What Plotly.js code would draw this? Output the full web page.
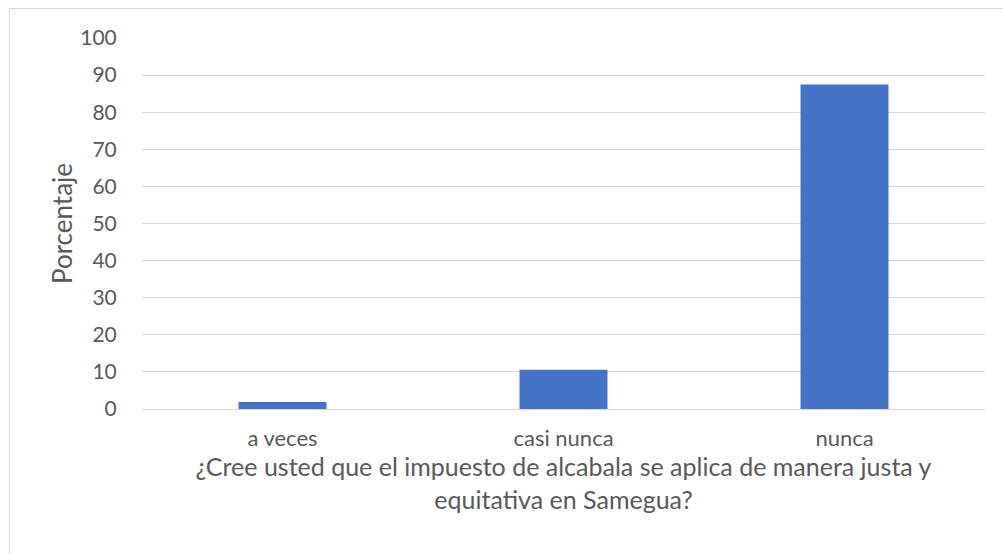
<!DOCTYPE html>
<html>
<head>
<meta charset="utf-8">
<script src="https://cdn.plot.ly/plotly-3.0.1.min.js"></script>
<style>
html,body{margin:0;padding:0;background:#fff;overflow:hidden;}
#chart{width:1003px;height:554px;}
#frame{position:absolute;left:9px;top:8px;width:1010px;height:570px;border:1px solid #d9d9d9;pointer-events:none;}
</style>
</head>
<body>
<div id="chart"></div>
<div id="frame"></div>
<script>
const categories = ["a veces", "casi nunca", "nunca"];
const values = [1.9, 10.6, 87.5];
const yTickValues = [0,10,20,30,40,50,60,70,80,90,100];
const xTitle = "¿Cree usted que el impuesto de alcabala se aplica de manera justa y<br>equitativa en Samegua?";
const yTitle = "Porcentaje";

const font = "Lato, 'Open Sans', sans-serif";
const textColor = "#595959";

Plotly.newPlot("chart", [{
  type: "bar",
  x: categories,
  y: values,
  marker: {color: "#4472c4"},
  hoverinfo: "x+y"
}], {
  width: 1003,
  height: 554,
  margin: {l: 142, r: 18, t: 38, b: 145},
  paper_bgcolor: "#ffffff",
  plot_bgcolor: "#ffffff",
  bargap: 0.687,
  showlegend: false,
  font: {family: font, color: textColor, size: 22},
  xaxis: {
    type: "category",
    showgrid: false,
    showline: false,
    ticks: "outside",
    ticklen: 10,
    tickcolor: "rgba(0,0,0,0)",
    tickfont: {family: font, size: 22, color: textColor},
    title: {text: xTitle, font: {family: font, size: 25, color: textColor}, standoff: 2},
    automargin: false
  },
  yaxis: {
    range: [0, 100],
    tickvals: yTickValues,
    ticktext: yTickValues.map(String),
    showgrid: true,
    gridcolor: "#d9d9d9",
    gridwidth: 1,
    zeroline: true,
    zerolinecolor: "#d9d9d9",
    zerolinewidth: 1,
    showline: false,
    ticks: "outside",
    ticklen: 20,
    tickcolor: "rgba(0,0,0,0)",
    tickfont: {family: font, size: 21, color: textColor},
    title: {text: yTitle, font: {family: font, size: 26, color: textColor}, standoff: 0},
    automargin: false
  }
}, {displayModeBar: false, staticPlot: true});
</script>
</body>
</html>
